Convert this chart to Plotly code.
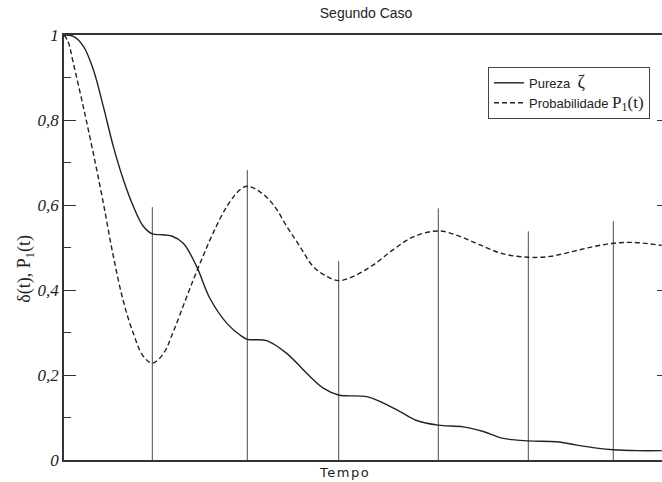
import plotly.graph_objects as go

# Pureza (solid) sampled along time
t_pureza = [0.0, 0.093, 0.193, 0.293, 0.393, 0.493, 0.593, 0.693, 0.793, 0.883,
            0.98, 1.077, 1.193, 1.327, 1.46, 1.627, 1.76, 1.833, 2.027, 2.227,
            2.427, 2.593, 2.745, 3.027, 3.193, 3.36, 3.527, 3.743, 3.993, 4.193,
            4.393, 4.643, 4.927, 5.127, 5.327, 5.493, 5.727, 5.977]
pureza = [1.0, 0.997, 0.974, 0.919, 0.832, 0.738, 0.660, 0.597, 0.550, 0.532,
          0.530, 0.527, 0.510, 0.455, 0.380, 0.322, 0.294, 0.284, 0.281, 0.251,
          0.204, 0.169, 0.153, 0.149, 0.134, 0.114, 0.093, 0.082, 0.078, 0.067,
          0.051, 0.045, 0.043, 0.035, 0.028, 0.024, 0.022, 0.022]

# Probabilidade P1(t) (dashed)
t_prob = [0.0, 0.04, 0.093, 0.193, 0.293, 0.393, 0.493, 0.593, 0.693, 0.793,
          0.883, 0.993, 1.093, 1.193, 1.293, 1.393, 1.493, 1.627, 1.76, 1.833, 1.96,
          2.093, 2.227, 2.36, 2.493, 2.627, 2.747, 2.893, 3.093, 3.293, 3.493,
          3.743, 3.96, 4.16, 4.393, 4.643, 4.86, 5.093, 5.293, 5.493, 5.693, 5.977]
prob = [1.0, 0.985, 0.934, 0.831, 0.722, 0.605, 0.480, 0.374, 0.298, 0.244,
        0.228, 0.250, 0.302, 0.363, 0.424, 0.481, 0.535, 0.596, 0.636, 0.644, 0.631,
        0.601, 0.550, 0.502, 0.455, 0.432, 0.422, 0.432, 0.459, 0.495, 0.525,
        0.539, 0.526, 0.506, 0.485, 0.477, 0.479, 0.491, 0.502, 0.510, 0.512, 0.505]

# Vertical markers at the extrema of P1(t)
t_marks = [0.883, 1.833, 2.747, 3.743, 4.643, 5.493]
h_marks = [0.595, 0.682, 0.468, 0.592, 0.538, 0.562]

y_ticks = [0, 0.2, 0.4, 0.6, 0.8, 1]
y_ticktext = ["<i>0</i>", "<i>0,2</i>", "<i>0,4</i>", "<i>0,6</i>", "<i>0,8</i>", "<i>1</i>"]

SERIF = "Liberation Serif"
SANS = "Liberation Sans"

mx, my = [], []
for t, h in zip(t_marks, h_marks):
    mx += [t, t, None]
    my += [0, h, None]

fig = go.Figure()
fig.add_trace(go.Scatter(x=mx, y=my, mode="lines", showlegend=False,
                         line=dict(color="#4a4a4a", width=1), hoverinfo="skip"))
fig.add_trace(go.Scatter(
    x=t_pureza, y=pureza, mode="lines", line_shape="spline",
    name="Pureza  <span style='font-family:Liberation Serif;font-size:18px'>ζ</span>",
    line=dict(color="#222222", width=1.4)))
fig.add_trace(go.Scatter(
    x=t_prob, y=prob, mode="lines", line_shape="spline",
    name="Probabilidade <span style='font-family:Liberation Serif;font-size:17px'>P<sub>1</sub>(t)</span>",
    line=dict(color="#222222", width=1.4, dash="5px,3px")))
# carrier for the right-hand tick marks
fig.add_trace(go.Scatter(x=[None], y=[None], yaxis="y2", showlegend=False, hoverinfo="skip"))

fig.update_layout(
    width=662, height=482,
    margin=dict(l=64, r=0, t=35, b=22),
    paper_bgcolor="white", plot_bgcolor="white",
    font=dict(family=SANS, color="#222222"),
    title=dict(text="Segundo Caso", x=0.553, xanchor="center", y=0.973, yanchor="middle",
               font=dict(family=SANS, size=14, color="#222222")),
    xaxis=dict(range=[0, 5.98], showline=True, linecolor="#333333", linewidth=1.5,
               mirror=True, ticks="", showticklabels=False, showgrid=False, zeroline=False),
    yaxis=dict(range=[0, 1], tickvals=y_ticks, ticktext=y_ticktext,
               ticks="inside", ticklen=12, tickwidth=1.2, tickcolor="#333333",
               minor=dict(ticks="inside", ticklen=7, tickwidth=1.2, tickcolor="#333333", dtick=0.1,
                          showgrid=False),
               showline=True, linecolor="#333333", linewidth=1.5,
               showgrid=False, zeroline=False,
               tickfont=dict(family=SERIF, size=17, color="#222222")),
    yaxis2=dict(range=[0, 1], overlaying="y", side="right", tickvals=[0.2, 0.4, 0.6, 0.8],
                ticks="inside", ticklen=5, tickwidth=1.2, tickcolor="#333333",
                showticklabels=False, showline=False, showgrid=False, zeroline=False),
    legend=dict(x=0.709, y=0.925, xanchor="left", yanchor="top",
                bordercolor="#444444", borderwidth=1, bgcolor="white",
                font=dict(family=SANS, size=13, color="#222222"),
                tracegroupgap=0, itemwidth=30),
    annotations=[
        dict(text="δ(t), P<sub>1</sub>(t)", xref="paper", yref="paper",
             x=-0.0635, y=0.45, xanchor="center", yanchor="middle", textangle=-90,
             showarrow=False, font=dict(family=SERIF, size=18, color="#222222")),
        dict(text="<span style='letter-spacing:1.5px'>Tempo</span>", xref="paper", yref="paper",
             x=(344 - 64) / 598, y=-12 / 425, xanchor="center", yanchor="middle",
             showarrow=False, font=dict(family="DejaVu Sans", size=13, color="#1a1a1a")),
    ],
)

fig.write_html("out.html")
